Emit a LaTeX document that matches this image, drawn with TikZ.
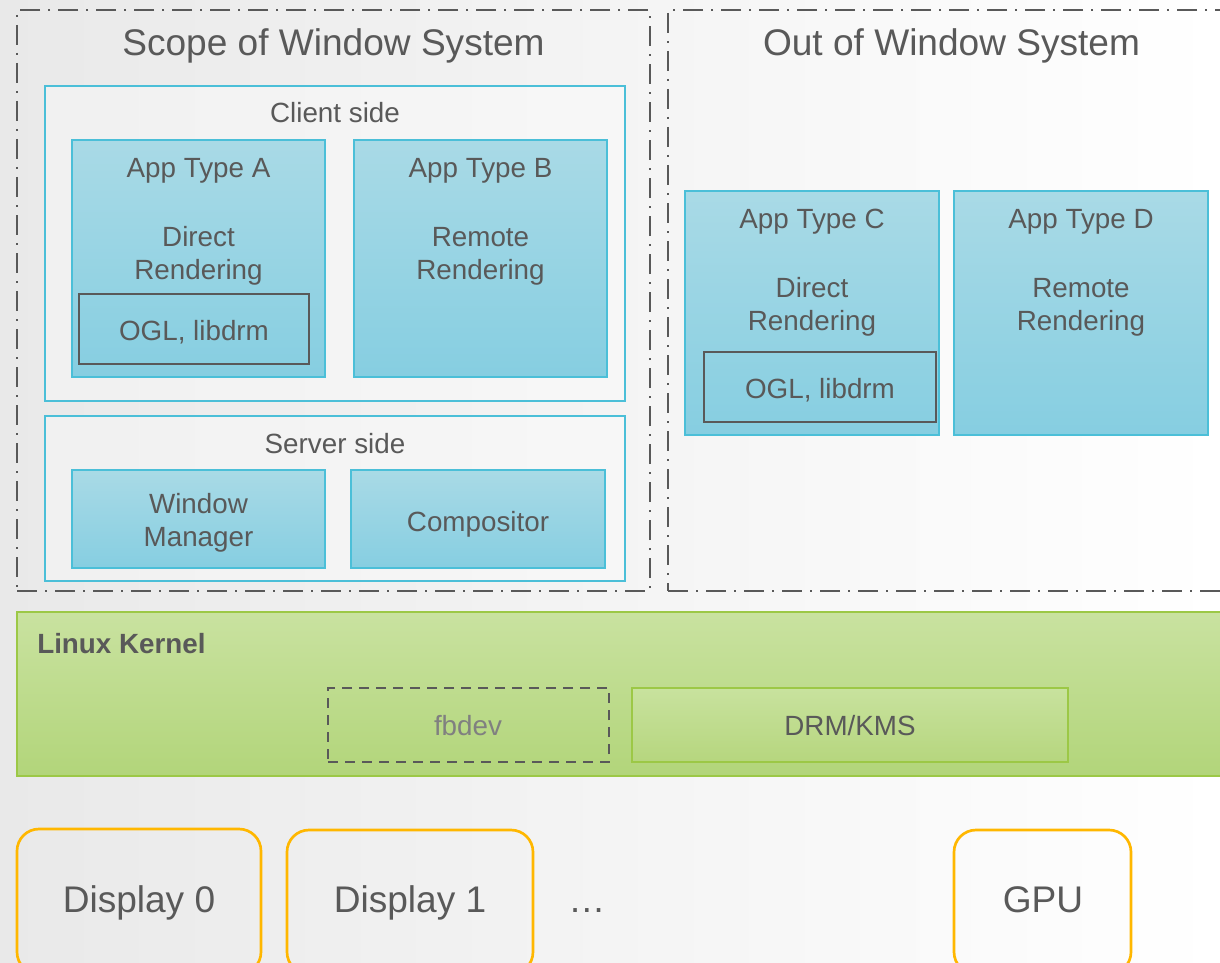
\documentclass[tikz,border=0pt]{standalone}
\usepackage{fontspec}
\setmainfont{Liberation Sans}
\usetikzlibrary{fit}
\definecolor{txt}{HTML}{595959}
\definecolor{cyanb}{HTML}{4BBFD8}
\definecolor{apptop}{HTML}{A9DAE6}
\definecolor{appbot}{HTML}{86CEE1}
\definecolor{kertop}{HTML}{C9E2A0}
\definecolor{kerbot}{HTML}{B2D57A}
\definecolor{kerb}{HTML}{9CC846}
\definecolor{drmtop}{HTML}{C8E29E}
\definecolor{drmbot}{HTML}{B6D67E}
\definecolor{orangeb}{HTML}{FFB700}
\definecolor{bgl}{HTML}{E9E9E9}
\definecolor{fbtxt}{HTML}{808080}
\tikzset{
  frame/.style={draw=txt, line width=1.6pt, dash pattern=on 15pt off 6pt on 1.5pt off 6pt, inner sep=0},
  appbox/.style={draw=cyanb, line width=0.9pt, top color=apptop, bottom color=appbot, inner sep=0},
  libbox/.style={draw=txt, line width=1.6pt, inner sep=0},
  clientbox/.style={draw=cyanb, line width=0.9pt, fill=white, fill opacity=0.35, inner sep=0},
  serverbox/.style={draw=cyanb, line width=2pt, fill=white, fill opacity=0.35, inner sep=0},
  kernelbox/.style={draw=kerb, line width=1.5pt, top color=kertop, bottom color=kerbot, inner sep=0},
  drmbox/.style={draw=kerb, line width=1.5pt, top color=drmtop, bottom color=drmbot, inner sep=0},
  fbbox/.style={draw=txt, line width=1.6pt, dash pattern=on 7.5pt off 5.25pt, inner sep=0},
  dispbox/.style={draw=orangeb, line width=2pt, rounded corners=16.5pt, inner sep=0},
  t/.style={font=\fontsize{20.85}{25}\selectfont, text=txt, inner sep=0, anchor=base},
  big/.style={font=\fontsize{27.8}{33}\selectfont, text=txt, inner sep=0, anchor=base},
}
\begin{document}
\begin{tikzpicture}[x=0.75pt, y=-0.75pt]
\useasboundingbox (0,0) rectangle (1220,963);
\clip (0,0) rectangle (1220,963);
\shade[left color=bgl, right color=white] (0,0) rectangle (1220,963);

% frames
\node[frame, fit={(17,10) (650,591)}] (scope) {};
\node[frame, fit={(668,10) (1250,591)}] (out) {};
\node[big] (scopet) at (333.5,56) {Scope of Window System};
\node[big] (outt) at (951.5,56) {Out of Window System};

% client side
\node[clientbox, fit={(45,86) (625,401)}] (client) {};
\node[t] (clientt) at (335,123) {Client side};
\node[appbox, fit={(72,140) (325,377)}] (appA) {};
\node[t] (appAt) at (198.5,177) {App Type A};
\node[t] (appA1) at (198.5,246) {Direct};
\node[t] (appA2) at (198.5,279) {Rendering};
\node[libbox, fit={(79,294) (309,364)}] (oglA) {};
\node[t] (oglAt) at (194,340) {OGL, libdrm};
\node[appbox, fit={(354,140) (607,377)}] (appB) {};
\node[t] (appBt) at (480.5,177) {App Type B};
\node[t] (appB1) at (480.5,246) {Remote};
\node[t] (appB2) at (480.5,279) {Rendering};

% server side
\node[serverbox, fit={(45,416) (625,581)}] (server) {};
\node[t] (servert) at (335,453) {Server side};
\node[appbox, fit={(72,470) (325,568)}] (wm) {};
\node[t] (wm1) at (198.5,513) {Window};
\node[t] (wm2) at (198.5,546) {Manager};
\node[appbox, fit={(351,470) (605,568)}] (comp) {};
\node[t] (compt) at (478,531) {Compositor};

% out of window system
\node[appbox, fit={(685,191) (939,435)}] (appC) {};
\node[t] (appCt) at (812,228) {App Type C};
\node[t] (appC1) at (812,297) {Direct};
\node[t] (appC2) at (812,330) {Rendering};
\node[libbox, fit={(704,352) (936,422)}] (oglC) {};
\node[t] (oglCt) at (820,398) {OGL, libdrm};
\node[appbox, fit={(954,191) (1208,435)}] (appD) {};
\node[t] (appDt) at (1081,228) {App Type D};
\node[t] (appD1) at (1081,297) {Remote};
\node[t] (appD2) at (1081,330) {Rendering};

% kernel
\node[kernelbox, fit={(17,612) (1250,776)}] (kernel) {};
\node[t, anchor=base west, font=\fontsize{20.85}{25}\selectfont\bfseries] (kernelt) at (37,653) {Linux Kernel};
\node[fbbox, fit={(328,688) (609,762)}] (fb) {};
\node[t, text=fbtxt] (fbt) at (468,735) {fbdev};
\node[drmbox, fit={(632,688) (1068,762)}] (drm) {};
\node[t] (drmt) at (850,735) {DRM/KMS};

% hardware
\node[dispbox, fit={(17,829) (261,974)}] (d0) {};
\node[big] (d0t) at (139,912) {Display 0};
\node[dispbox, fit={(287,830) (533,974)}] (d1) {};
\node[big] (d1t) at (410,912) {Display 1};
\node[big] (dots) at (587,912) {…};
\node[dispbox, fit={(954,830) (1131,974)}] (gpu) {};
\node[big] (gput) at (1043,912) {GPU};
\end{tikzpicture}
\end{document}
